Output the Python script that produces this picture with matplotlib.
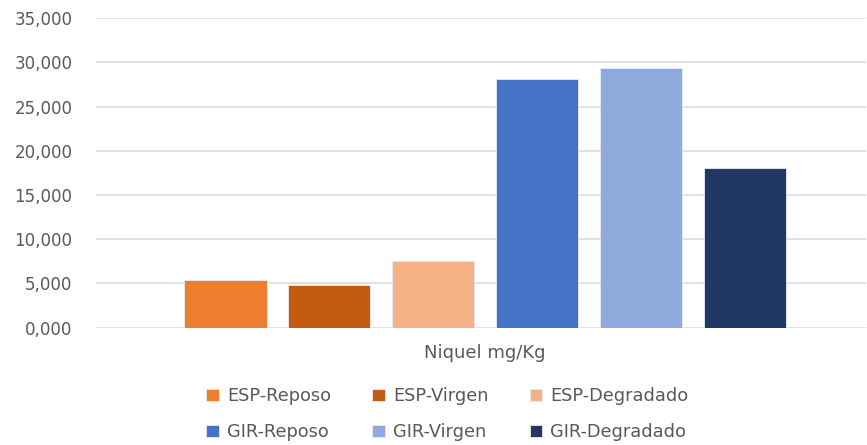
import matplotlib
matplotlib.use("Agg")
import matplotlib.pyplot as plt
from matplotlib.ticker import FuncFormatter

# Níquel (mg/Kg) por sitio y condición
series = ["ESP-Reposo", "ESP-Virgen", "ESP-Degradado",
          "GIR-Reposo", "GIR-Virgen", "GIR-Degradado"]
values = [5.36, 4.80, 7.58, 28.10, 29.38, 18.03]
colors = ["#ED7D31", "#C55A11", "#F4B183", "#4472C4", "#8FAADC", "#203864"]
category = "Niquel mg/Kg"
yticks = [0, 5, 10, 15, 20, 25, 30, 35]

text_gray = "#595959"
plt.rcParams['font.family'] = ['DejaVu Sans']

fig = plt.figure(figsize=(8.67, 4.45), dpi=100)
ax = fig.add_axes([0.1107, 0.2636, 0.888, 0.6953])

handles = []
for i, (name, val, col) in enumerate(zip(series, values, colors)):
    h = ax.bar(i, val, width=0.79, color=col, edgecolor="#E8ECF4",
               linewidth=0.6, label=name, zorder=3)
    handles.append(h)

ax.set_xlim(-1.245, -1.245 + 770 / 104)
ax.set_ylim(0, 35)
ax.set_yticks(yticks)
ax.yaxis.set_major_formatter(
    FuncFormatter(lambda v, p: f"{v:,.3f}".replace(".", ",")))
ax.yaxis.grid(True, color="#D9D9D9", linewidth=1.1, zorder=0)
ax.set_xticks([])
for s in ax.spines.values():
    s.set_visible(False)
ax.tick_params(axis="y", length=0, pad=17, labelsize=12, labelcolor=text_gray)

ax.text(0.505, -0.083, category, transform=ax.transAxes, ha="center",
        va="center", fontsize=13, color=text_gray)

# legend filled row by row: ESP on top, GIR below
order = [0, 3, 1, 4, 2, 5]
leg = fig.legend([handles[i] for i in order], [series[i] for i in order],
                 ncol=3, loc="center", bbox_to_anchor=(0.516, 0.069),
                 frameon=False, fontsize=12.8, handlelength=0.7,
                 handleheight=0.7, handletextpad=0.45, columnspacing=2.33,
                 labelspacing=1.0)
for t in leg.get_texts():
    t.set_color(text_gray)

fig.savefig("out.png", dpi=100)
